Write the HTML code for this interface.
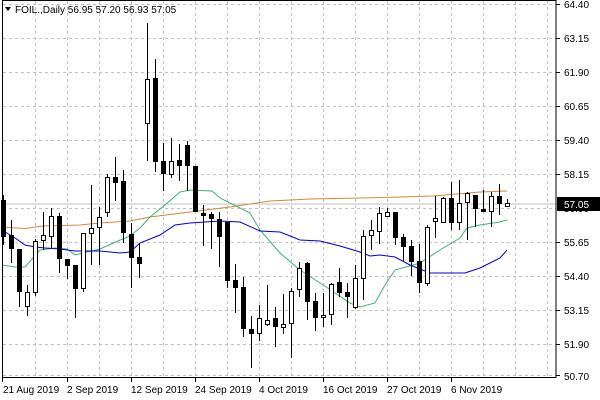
<!DOCTYPE html>
<html><head><meta charset="utf-8"><style>
html,body{margin:0;padding:0;background:#fff;}
svg{display:block;font-family:"Liberation Sans",sans-serif;font-size:10px;}
</style></head><body>
<svg width="600" height="400" xmlns="http://www.w3.org/2000/svg">
<rect width="600" height="400" fill="#fff"/>
<g stroke="#c0c0c0" stroke-dasharray="3,3" stroke-width="1">
<line x1="3" y1="4.5" x2="556" y2="4.5"/><line x1="3" y1="38.5" x2="556" y2="38.5"/><line x1="3" y1="72.5" x2="556" y2="72.5"/><line x1="3" y1="106.5" x2="556" y2="106.5"/><line x1="3" y1="140.5" x2="556" y2="140.5"/><line x1="3" y1="174.5" x2="556" y2="174.5"/><line x1="3" y1="208.5" x2="556" y2="208.5"/><line x1="3" y1="242.5" x2="556" y2="242.5"/><line x1="3" y1="276.5" x2="556" y2="276.5"/><line x1="3" y1="310.5" x2="556" y2="310.5"/><line x1="3" y1="344.5" x2="556" y2="344.5"/><line x1="3" y1="375.5" x2="556" y2="375.5"/>
<line x1="35.5" y1="1" x2="35.5" y2="377"/><line x1="67.5" y1="1" x2="67.5" y2="377"/><line x1="99.5" y1="1" x2="99.5" y2="377"/><line x1="131.5" y1="1" x2="131.5" y2="377"/><line x1="163.5" y1="1" x2="163.5" y2="377"/><line x1="195.5" y1="1" x2="195.5" y2="377"/><line x1="227.5" y1="1" x2="227.5" y2="377"/><line x1="259.5" y1="1" x2="259.5" y2="377"/><line x1="291.5" y1="1" x2="291.5" y2="377"/><line x1="323.5" y1="1" x2="323.5" y2="377"/><line x1="355.5" y1="1" x2="355.5" y2="377"/><line x1="387.5" y1="1" x2="387.5" y2="377"/><line x1="419.5" y1="1" x2="419.5" y2="377"/><line x1="451.5" y1="1" x2="451.5" y2="377"/><line x1="483.5" y1="1" x2="483.5" y2="377"/><line x1="515.5" y1="1" x2="515.5" y2="377"/><line x1="547.5" y1="1" x2="547.5" y2="377"/>
</g>
<line x1="3" y1="204" x2="556" y2="204" stroke="#c0c0c0"/>
<g fill="none" stroke-width="1">
<polyline stroke="#d2893a" points="2,227 25,228.5 43,226 80,225 100,223 130,221 150,217 190,212 230,207 270,201 310,199 360,198 400,197 433,196 480,192 507,191"/>
<polyline stroke="#3cb371" points="2,265 15,267 25,267 40,250 55,248 67,249 75,255 83,253 100,249 120,240 130,236 140,228 150,217 165,205 180,192 190,190 212,191 220,198 250,213 260,230 280,253 300,270 320,283 335,293 350,303 360,307 375,303 385,285 395,270 420,263 440,250 460,238 467,228 480,225 500,222 507,220"/>
<polyline stroke="#0000cd" points="2,230 15,238 25,245 35,247 45,248 60,249 75,251 100,251 120,253 130,252 140,243 160,235 175,225 190,223 220,221 240,222 260,231 280,232 300,240 320,241 340,246 360,252 370,256 380,255 395,257 410,265 430,273 465,273 480,268 500,258 507,250"/>
</g>
<g stroke="#000" fill="#000">
<line x1="3.5" y1="195" x2="3.5" y2="245"/><rect x="1" y="200" width="5" height="37" stroke="none"/>
<line x1="11.5" y1="220" x2="11.5" y2="263"/><rect x="9" y="235" width="5" height="14" stroke="none"/>
<line x1="19.5" y1="249" x2="19.5" y2="307"/><rect x="17" y="249" width="5" height="43" stroke="none"/>
<line x1="27.5" y1="285" x2="27.5" y2="316"/><rect x="25.5" y="292.5" width="4" height="14" fill="#fff"/>
<line x1="35.5" y1="239" x2="35.5" y2="296"/><rect x="33.5" y="241.5" width="4" height="51" fill="#fff"/>
<line x1="43.5" y1="212" x2="43.5" y2="250"/><rect x="41.5" y="235.5" width="4" height="5" fill="#fff"/>
<line x1="51.5" y1="208" x2="51.5" y2="248"/><rect x="49.5" y="216.5" width="4" height="20" fill="#fff"/>
<line x1="59.5" y1="213" x2="59.5" y2="273"/><rect x="57" y="216" width="5" height="43" stroke="none"/>
<line x1="67.5" y1="259" x2="67.5" y2="279"/><rect x="65" y="259" width="5" height="7" stroke="none"/>
<line x1="75.5" y1="265" x2="75.5" y2="318"/><rect x="73" y="265" width="5" height="24" stroke="none"/>
<line x1="83.5" y1="233" x2="83.5" y2="292"/><rect x="81.5" y="233.5" width="4" height="55" fill="#fff"/>
<line x1="91.5" y1="185" x2="91.5" y2="265"/><rect x="89.5" y="228.5" width="4" height="5" fill="#fff"/>
<line x1="99.5" y1="207" x2="99.5" y2="265"/><rect x="97.5" y="217.5" width="4" height="10" fill="#fff"/>
<line x1="107.5" y1="174" x2="107.5" y2="217"/><rect x="105.5" y="177.5" width="4" height="35" fill="#fff"/>
<line x1="115.5" y1="157" x2="115.5" y2="201"/><rect x="113" y="177" width="5" height="6" stroke="none"/>
<line x1="123.5" y1="170" x2="123.5" y2="243"/><rect x="121" y="181" width="5" height="52" stroke="none"/>
<line x1="131.5" y1="223" x2="131.5" y2="288"/><rect x="129" y="234" width="5" height="24" stroke="none"/>
<line x1="139.5" y1="243" x2="139.5" y2="278"/><rect x="137" y="257" width="5" height="7" stroke="none"/>
<line x1="147.5" y1="23" x2="147.5" y2="161"/><rect x="145.5" y="79.5" width="4" height="44" fill="#fff"/>
<line x1="155.5" y1="59" x2="155.5" y2="172"/><rect x="153" y="78" width="5" height="84" stroke="none"/>
<line x1="163.5" y1="143" x2="163.5" y2="191"/><rect x="161" y="161" width="5" height="13" stroke="none"/>
<line x1="171.5" y1="138" x2="171.5" y2="178"/><rect x="169.5" y="161.5" width="4" height="13" fill="#fff"/>
<line x1="179.5" y1="144" x2="179.5" y2="181"/><rect x="177" y="160" width="5" height="6" stroke="none"/>
<line x1="187.5" y1="141" x2="187.5" y2="191"/><rect x="185" y="145" width="5" height="21" stroke="none"/>
<line x1="195.5" y1="166" x2="195.5" y2="212"/><rect x="193" y="166" width="5" height="46" stroke="none"/>
<line x1="203.5" y1="205" x2="203.5" y2="246"/><rect x="201" y="213" width="5" height="3" stroke="none"/>
<line x1="211.5" y1="212" x2="211.5" y2="249"/><rect x="209" y="214" width="5" height="5" stroke="none"/>
<line x1="219.5" y1="212" x2="219.5" y2="267"/><rect x="217" y="219" width="5" height="18" stroke="none"/>
<line x1="227.5" y1="222" x2="227.5" y2="288"/><rect x="225" y="222" width="5" height="59" stroke="none"/>
<line x1="235.5" y1="264" x2="235.5" y2="313"/><rect x="233" y="280" width="5" height="8" stroke="none"/>
<line x1="243.5" y1="277" x2="243.5" y2="337"/><rect x="241" y="287" width="5" height="42" stroke="none"/>
<line x1="251.5" y1="316" x2="251.5" y2="368"/><rect x="249" y="329" width="5" height="5" stroke="none"/>
<line x1="259.5" y1="305" x2="259.5" y2="341"/><rect x="257.5" y="318.5" width="4" height="15" fill="#fff"/>
<line x1="267.5" y1="285" x2="267.5" y2="326"/><rect x="265.5" y="320.5" width="4" height="4" fill="#fff"/>
<line x1="275.5" y1="307" x2="275.5" y2="347"/><rect x="273" y="318" width="5" height="9" stroke="none"/>
<line x1="283.5" y1="294" x2="283.5" y2="334"/><rect x="281.5" y="324.5" width="4" height="3" fill="#fff"/>
<line x1="291.5" y1="288" x2="291.5" y2="358"/><rect x="289.5" y="291.5" width="4" height="32" fill="#fff"/>
<line x1="299.5" y1="262" x2="299.5" y2="297"/><rect x="297.5" y="268.5" width="4" height="21" fill="#fff"/>
<line x1="307.5" y1="262" x2="307.5" y2="320"/><rect x="305" y="263" width="5" height="39" stroke="none"/>
<line x1="315.5" y1="293" x2="315.5" y2="331"/><rect x="313" y="301" width="5" height="17" stroke="none"/>
<line x1="323.5" y1="293" x2="323.5" y2="327"/><rect x="321.5" y="315.5" width="4" height="2" fill="#fff"/>
<line x1="331.5" y1="283" x2="331.5" y2="325"/><rect x="329.5" y="284.5" width="4" height="30" fill="#fff"/>
<line x1="339.5" y1="268" x2="339.5" y2="297"/><rect x="337" y="282" width="5" height="11" stroke="none"/>
<line x1="347.5" y1="283" x2="347.5" y2="318"/><rect x="345" y="292" width="5" height="5" stroke="none"/>
<line x1="355.5" y1="265" x2="355.5" y2="309"/><rect x="353.5" y="278.5" width="4" height="29" fill="#fff"/>
<line x1="363.5" y1="230" x2="363.5" y2="300"/><rect x="361.5" y="236.5" width="4" height="42" fill="#fff"/>
<line x1="371.5" y1="220" x2="371.5" y2="250"/><rect x="369.5" y="230.5" width="4" height="5" fill="#fff"/>
<line x1="379.5" y1="207" x2="379.5" y2="244"/><rect x="377.5" y="213.5" width="4" height="18" fill="#fff"/>
<line x1="387.5" y1="208" x2="387.5" y2="217"/><rect x="385.5" y="212.5" width="4" height="4" fill="#fff"/>
<line x1="395.5" y1="212" x2="395.5" y2="245"/><rect x="393" y="212" width="5" height="26" stroke="none"/>
<line x1="403.5" y1="234" x2="403.5" y2="261"/><rect x="401" y="237" width="5" height="10" stroke="none"/>
<line x1="411.5" y1="240" x2="411.5" y2="276"/><rect x="409" y="246" width="5" height="16" stroke="none"/>
<line x1="419.5" y1="244" x2="419.5" y2="293"/><rect x="417" y="261" width="5" height="22" stroke="none"/>
<line x1="427.5" y1="225" x2="427.5" y2="286"/><rect x="425.5" y="227.5" width="4" height="56" fill="#fff"/>
<line x1="435.5" y1="196" x2="435.5" y2="238"/><rect x="433.5" y="218.5" width="4" height="3" fill="#fff"/>
<line x1="443.5" y1="197" x2="443.5" y2="223"/><rect x="441.5" y="198.5" width="4" height="24" fill="#fff"/>
<line x1="451.5" y1="182" x2="451.5" y2="230"/><rect x="449" y="198" width="5" height="25" stroke="none"/>
<line x1="459.5" y1="180" x2="459.5" y2="230"/><rect x="457.5" y="203.5" width="4" height="19" fill="#fff"/>
<line x1="467.5" y1="192" x2="467.5" y2="240"/><rect x="465.5" y="193.5" width="4" height="9" fill="#fff"/>
<line x1="475.5" y1="195" x2="475.5" y2="227"/><rect x="473" y="195" width="5" height="14" stroke="none"/>
<line x1="483.5" y1="190" x2="483.5" y2="212"/><rect x="481" y="209" width="5" height="3" stroke="none"/>
<line x1="491.5" y1="192" x2="491.5" y2="227"/><rect x="489.5" y="196.5" width="4" height="15" fill="#fff"/>
<line x1="499.5" y1="184" x2="499.5" y2="215"/><rect x="497" y="196" width="5" height="8" stroke="none"/>
<line x1="507.5" y1="199" x2="507.5" y2="207"/><rect x="505.5" y="203.5" width="4" height="3" fill="#fff"/>
</g>
<rect x="2.5" y="0.5" width="553.5" height="377" fill="none" stroke="#000"/>
<g stroke="#000">
<line x1="556" y1="4.5" x2="560" y2="4.5"/><line x1="556" y1="38.5" x2="560" y2="38.5"/><line x1="556" y1="72.5" x2="560" y2="72.5"/><line x1="556" y1="106.5" x2="560" y2="106.5"/><line x1="556" y1="140.5" x2="560" y2="140.5"/><line x1="556" y1="174.5" x2="560" y2="174.5"/><line x1="556" y1="242.5" x2="560" y2="242.5"/><line x1="556" y1="276.5" x2="560" y2="276.5"/><line x1="556" y1="310.5" x2="560" y2="310.5"/><line x1="556" y1="344.5" x2="560" y2="344.5"/><line x1="556" y1="375.5" x2="560" y2="375.5"/>
<line x1="2.5" y1="377" x2="2.5" y2="382"/><line x1="67.5" y1="377" x2="67.5" y2="382"/><line x1="131.5" y1="377" x2="131.5" y2="382"/><line x1="195.5" y1="377" x2="195.5" y2="382"/><line x1="259.5" y1="377" x2="259.5" y2="382"/><line x1="323.5" y1="377" x2="323.5" y2="382"/><line x1="387.5" y1="377" x2="387.5" y2="382"/><line x1="451.5" y1="377" x2="451.5" y2="382"/>
</g>
<g fill="#000">
<text x="564" y="8">64.40</text><text x="564" y="42">63.15</text><text x="564" y="76">61.90</text><text x="564" y="110">60.65</text><text x="564" y="144">59.40</text><text x="564" y="178">58.15</text><text x="564" y="212">56.90</text><text x="564" y="246">55.65</text><text x="564" y="280">54.40</text><text x="564" y="314">53.15</text><text x="564" y="348">51.90</text><text x="564" y="380">50.70</text>
<text x="3" y="393">21 Aug 2019</text><text x="67" y="393">2 Sep 2019</text><text x="131" y="393">12 Sep 2019</text><text x="195" y="393">24 Sep 2019</text><text x="259" y="393">4 Oct 2019</text><text x="323" y="393">16 Oct 2019</text><text x="387" y="393">27 Oct 2019</text><text x="451" y="393">6 Nov 2019</text>
</g>
<rect x="557" y="197" width="43" height="14" fill="#000"/>
<text x="564" y="208" fill="#fff">57.05</text>
<path d="M5,7 L11,7 L8,11 Z" fill="#000"/>
<text x="15" y="13" fill="#000">FOIL.,Daily  56.95 57.20 56.93 57.05</text>
</svg>
</body></html>
